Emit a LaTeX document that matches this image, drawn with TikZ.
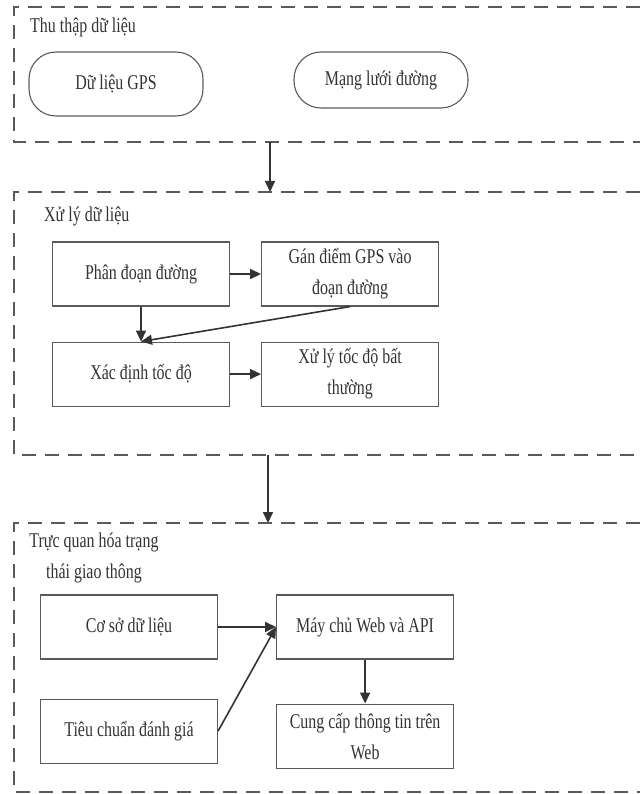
\documentclass[tikz,border=0pt]{standalone}
\usepackage{fontspec}
\setmainfont[FakeStretch=0.76]{Liberation Serif}
\usepackage{tikz}
\usetikzlibrary{positioning, arrows.meta}
\definecolor{inkgray}{HTML}{333333}
\definecolor{framegray}{HTML}{5A5A5A}

\begin{document}
\begin{tikzpicture}[
  x=1pt, y=-1pt,
  font=\fontsize{21}{31}\selectfont, text=inkgray,
  panel/.style={draw=framegray, line width=1.1pt, dash pattern=on 14pt off 9pt},
  title/.style={anchor=base west, inner sep=0pt},
  srcbox/.style={draw=framegray, line width=1.1pt, rounded corners=27pt,
    minimum width=174pt, minimum height=60pt, align=center},
  box/.style={draw=framegray, line width=1.1pt, minimum width=177pt,
    minimum height=64pt, align=center, inner sep=2pt},
  arrow/.style={-{Triangle[length=11pt,width=10pt]}, line width=1.6pt, draw=inkgray},
]
  \useasboundingbox (0,0) rectangle (640,794);

  \draw[panel] (640,7) -- (14,7) -- (14,142) -- (640,142);
  \node[title] (collect) at (30,33) {Thu thập dữ liệu};
  \node[srcbox, minimum height=64pt] (gps) at (116,84) {Dữ liệu GPS};
  \node[srcbox, minimum height=56pt] (road) at (381,80) {Mạng lưới đường};

  \coordinate (out1) at (270,142);
  \coordinate (in2) at (270,192);
  \draw[arrow] (out1) -- (in2);

  \draw[panel] (640,192) -- (14,192) -- (14,455) -- (640,455);
  \node[title] (process) at (44,222) {Xử lý dữ liệu};
  \node[box] (seg) at (141,274) {Phân đoạn đường};
  \node[box, right=31pt of seg] (assign) {Gán điểm GPS vào\\đoạn đường};
  \node[box, below=35pt of seg] (speed) {Xác định tốc độ};
  \node[box, right=31pt of speed] (abnormal) {Xử lý tốc độ bất\\thường};

  \draw[arrow] (seg) -- (assign);
  \draw[arrow] (seg) -- (speed);
  \draw[arrow] (assign.south) -- (speed.north);
  \draw[arrow] (speed) -- (abnormal);

  \coordinate (out2) at (268,455);
  \coordinate (in3) at (268,523);
  \draw[arrow] (out2) -- (in3);

  \draw[panel] (640,523) -- (14,523) -- (14,792) -- (640,792);
  \node[anchor=north, align=center, inner sep=0pt] (visual) at (94,533)
    {Trực quan hóa trạng\\thái giao thông};
  \node[box] (db) at (129,627) {Cơ sở dữ liệu};
  \node[box, right=58pt of db] (server) {Máy chủ Web và API};
  \node[box, below=39pt of db] (criteria) {Tiêu chuẩn đánh giá};
  \node[box, below=44pt of server] (webinfo) {Cung cấp thông tin trên\\Web};

  \draw[arrow] (db) -- (server);
  \draw[arrow] (criteria.east) -- (server.west);
  \draw[arrow] (server) -- (webinfo);
\end{tikzpicture}
\end{document}
